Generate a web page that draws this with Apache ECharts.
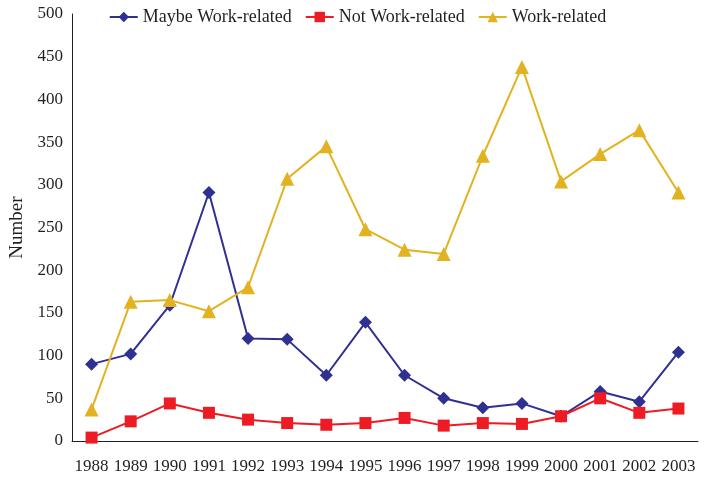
<!DOCTYPE html>
<html>
<head>
<meta charset="utf-8">
<script src="https://cdn.jsdelivr.net/npm/echarts@6/dist/echarts.min.js"></script>
<style>
  html, body { margin: 0; padding: 0; background: #fff; }
  #chart { width: 715px; height: 478px; }
</style>
</head>
<body>
<div id="chart"></div>
<script>
// 年份
var years = ['1988', '1989', '1990', '1991', '1992', '1993', '1994', '1995',
  '1996', '1997', '1998', '1999', '2000', '2001', '2002', '2003']
var maybeWork = [90, 102, 159, 291, 120, 119, 77, 139, 77, 50, 39, 44, 29, 58, 46, 104]
var notWork = [4, 23, 44, 33, 25, 21, 19, 21, 27, 18, 21, 20, 29, 50, 33, 38]
var work = [37, 163, 165, 152, 180, 307, 345, 248, 224, 219, 334, 438, 304, 336, 364, 291]

var font = 'Liberation Serif, Times New Roman, serif'
var myChart = echarts.init(document.getElementById('chart'))

function line(name, data, color, symbol, size) {
  return {
    name: name,
    type: 'line',
    data: data,
    symbol: symbol,
    symbolSize: size,
    showAllSymbol: true,
    lineStyle: { color: color, width: 2 },
    itemStyle: { color: color },
    emphasis: { disabled: true }
  }
}

var option = {
  animation: false,
  textStyle: { fontFamily: font },
  legend: {
    top: 3,
    left: 'center',
    itemWidth: 28,
    itemHeight: 13,
    itemGap: 13,
    textStyle: { fontFamily: font, fontSize: 18, color: '#231F20' }
  },
  grid: { left: 72, right: 17, top: 14, bottom: 37, outerBoundsMode: 'none' },
  xAxis: {
    type: 'category',
    data: years,
    boundaryGap: true,
    axisLine: { lineStyle: { color: '#231F20', width: 1 } },
    axisTick: { show: false },
    axisLabel: { fontFamily: font, fontSize: 17, color: '#231F20', margin: 17, interval: 0 }
  },
  yAxis: {
    type: 'value',
    min: 0,
    max: 500,
    interval: 50,
    name: 'Number',
    nameLocation: 'middle',
    nameGap: 41,
    nameTextStyle: { fontFamily: font, fontSize: 19, color: '#231F20' },
    axisLine: { show: true, lineStyle: { color: '#231F20', width: 1 } },
    axisTick: { show: false },
    splitLine: { show: false },
    axisLabel: { fontFamily: font, fontSize: 17, color: '#231F20', margin: 9 }
  },
  series: [
    line('Maybe Work-related', maybeWork, '#2E3192', 'diamond', 13),
    line('Not Work-related', notWork, '#ED1C24', 'rect', 12),
    line('Work-related', work, '#E3B220', 'triangle', 14)
  ]
}

myChart.setOption(option)
</script>
</body>
</html>
